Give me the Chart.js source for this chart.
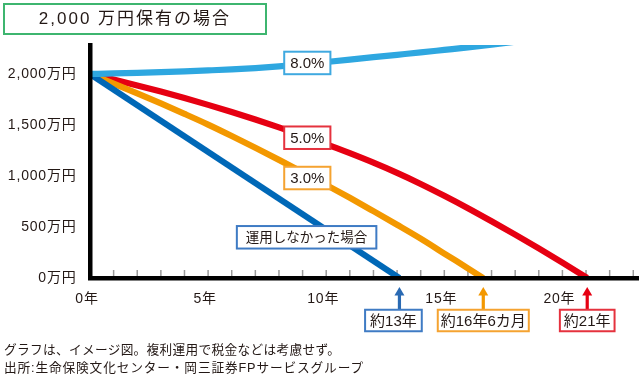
<!DOCTYPE html>
<html><head><meta charset="utf-8">
<script src="https://cdn.jsdelivr.net/npm/chart.js@4/dist/chart.umd.min.js"></script>
<style>
body{margin:0;background:#fff;}
#wrap{position:relative;width:640px;height:378px;overflow:hidden;font-family:'Liberation Sans','Noto Sans CJK JP',sans-serif;color:#231815}
canvas{position:absolute;left:0;top:0}
#title{position:absolute;left:3px;top:3px;width:260px;height:28px;border:2px solid #3db56f;font-size:17px;letter-spacing:2px;text-align:center;line-height:28px;}
.note{position:absolute;left:4px;font-size:12.7px;white-space:nowrap;line-height:16px}
</style></head>
<body>
<div id="wrap">
<canvas id="c" width="640" height="378"></canvas>
<div id="title">2,000 万円保有の場合</div>
<div class="note" style="top:342px;letter-spacing:0.3px">グラフは、イメージ図。複利運用で税金などは考慮せず。</div>
<div class="note" style="top:360px;letter-spacing:0.85px">出所:生命保険文化センター・岡三証券FPサービスグループ</div>
</div>
<script>
const FONT="'Liberation Sans','Noto Sans CJK JP',sans-serif";
const xTickValues=[0,5,10,15,20];
const xTickLabels=['0年','5年','10年','15年','20年'];
const yTickValues=[0,500,1000,1500,2000];
const yTickLabels=['0万円','500万円','1,000万円','1,500万円','2,000万円'];
const seriesNames=['8.0%','5.0%','3.0%','運用しなかった場合'];
const endLabels=['約13年','約16年6カ月','約21年'];

const years8=[0,1,2,3,4,5,6,7,8,9,10,11,12,13,14,15,16,17,18,19];
const rate8=[2000,2005,2011,2018,2026,2035,2045,2058,2075,2095,2117,2140,2165,2188,2211,2236,2261,2288,2316,2345];
const years5=[0,1,2,3,4,5,6,7,8,9,10,11,12,13,14,15,16,17,18,19,20,21.05];
const rate5=[2000,1945,1888,1828,1764,1697,1627,1553,1476,1395,1312,1223,1130,1030,922,806,684,556,425,290,150,0];
const years3=[0,1,2,3,4,5,6,7,8,9,10,11,12,13,14,15,16,16.65];
const rate3=[2000,1906,1810,1711,1609,1504,1392,1276,1158,1036,912,786,655,522,386,240,95,0];
const yearsNone=[0,13.1];
const valuesNone=[2000,0];

const pts=(xs,ys)=>xs.map((v,i)=>({x:v,y:ys[i]}));
const colors={c8:'#2ea7e0',c5:'#e60012',c3:'#f39800',c0:'#0068b7'};

function ds(label,xs,ys,color){
  return {label,data:pts(xs,ys),borderColor:color,borderWidth:6.2,pointRadius:0,fill:false,clip:0,
    cubicInterpolationMode:'monotone',borderCapStyle:'butt',borderJoinStyle:'round'};
}

function drawBox(ctx,cx,cy,text,border,font,padX,h){
  ctx.font=font;
  const w=ctx.measureText(text).width+2*padX;
  ctx.fillStyle='#fff';
  ctx.fillRect(cx-w/2,cy-h/2,w,h);
  ctx.strokeStyle=border;ctx.lineWidth=2;
  ctx.strokeRect(cx-w/2,cy-h/2,w,h);
  ctx.fillStyle='#231815';ctx.textAlign='center';ctx.textBaseline='middle';
  ctx.fillText(text,cx,cy+1);
}

const overlay={id:'overlay',
  beforeDraw(chart){chart.ctx.letterSpacing='0.8px';},
  beforeDatasetsDraw(chart){
    const {ctx,scales:{x},chartArea:a}=chart;
    ctx.letterSpacing='0px';
    ctx.save();
    ctx.strokeStyle='#9a9a9a';ctx.lineWidth=1.5;
    for(let t=1;t<=Math.floor(x.max);t++){
      const px=x.getPixelForValue(t);
      ctx.beginPath();ctx.moveTo(px,a.bottom-1);ctx.lineTo(px,a.bottom-8);ctx.stroke();
    }
    ctx.restore();
  },
  afterDatasetsDraw(chart,args,opts){
    const {ctx,scales:{x,y}}=chart;
    ctx.save();ctx.letterSpacing='0px';
    opts.inline.forEach(l=>{
      drawBox(ctx,x.getPixelForValue(l.x),y.getPixelForValue(l.y),l.text,l.border,l.font,l.padX,22.5);
    });
    ctx.restore();
  },
  afterDraw(chart,args,opts){
    const {ctx,scales:{x}}=chart;
    ctx.save();ctx.letterSpacing='0px';
    opts.ends.forEach(e=>{
      const px=x.getPixelForValue(e.x);
      ctx.fillStyle=e.arrow;
      ctx.beginPath();ctx.moveTo(px,287);ctx.lineTo(px+5,295.5);ctx.lineTo(px-5,295.5);ctx.closePath();ctx.fill();
      ctx.fillRect(px-1.6,295,3.2,15);
      drawBox(ctx,px+e.dx,320.5,e.text,e.border,"15px "+FONT,e.padX,21.5);
    });
    ctx.restore();
  }
};

const lastX=a=>a[a.length-1];

new Chart(document.getElementById('c'),{
  type:'line',
  data:{datasets:[
    ds(seriesNames[0],years8,rate8,colors.c8),
    ds(seriesNames[3],yearsNone,valuesNone,colors.c0),
    ds(seriesNames[2],years3,rate3,colors.c3),
    ds(seriesNames[1],years5,rate5,colors.c5)
  ]},
  plugins:[overlay],
  options:{
    responsive:false,animation:false,events:[],
    layout:{padding:{left:0,top:45,right:2,bottom:0}},
    plugins:{legend:{display:false},tooltip:{enabled:false},
      overlay:{
        inline:[
          {text:seriesNames[0],x:9.2,y:2108,border:'#3fa9e0',font:"15px "+FONT,padX:6},
          {text:seriesNames[1],x:9.2,y:1375,border:'#e5323e',font:"15px "+FONT,padX:6},
          {text:seriesNames[2],x:9.2,y:980,border:'#f5a331',font:"15px "+FONT,padX:6},
          {text:seriesNames[3],x:9.17,y:399,border:'#3f7bc4',font:"13.5px "+FONT,padX:9}
        ],
        ends:[
          {text:endLabels[0],x:lastX(yearsNone),arrow:'#2a6ab3',border:'#3f7bc4',dx:-6,padX:5},
          {text:endLabels[1],x:lastX(years3),arrow:'#f39800',border:'#f5a331',dx:0,padX:3},
          {text:endLabels[2],x:lastX(years5),arrow:'#e60012',border:'#e5323e',dx:0,padX:4}
        ]
      }
    },
    scales:{
      x:{type:'linear',min:0,max:23.2,
        afterFit(s){s.height=100;},
        afterBuildTicks(s){s.ticks=xTickValues.map(v=>({value:v}));},
        grid:{display:false,drawTicks:false},
        border:{display:true,color:'#000',width:4.5,z:1},
        ticks:{padding:13,labelOffset:-3,color:'#231815',font:{size:14,family:FONT},callback:(v,i)=>xTickLabels[i]}
      },
      y:{min:0,max:2284,
        afterFit(s){s.width=90;},
        afterBuildTicks(s){s.ticks=yTickValues.map(v=>({value:v}));},
        grid:{display:false,drawTicks:false},
        border:{display:true,color:'#000',width:4.5,z:1},
        ticks:{padding:13.5,color:'#231815',font:{size:14,family:FONT},callback:(v,i)=>yTickLabels[i]}
      }
    }
  }
});
</script>
</body></html>
